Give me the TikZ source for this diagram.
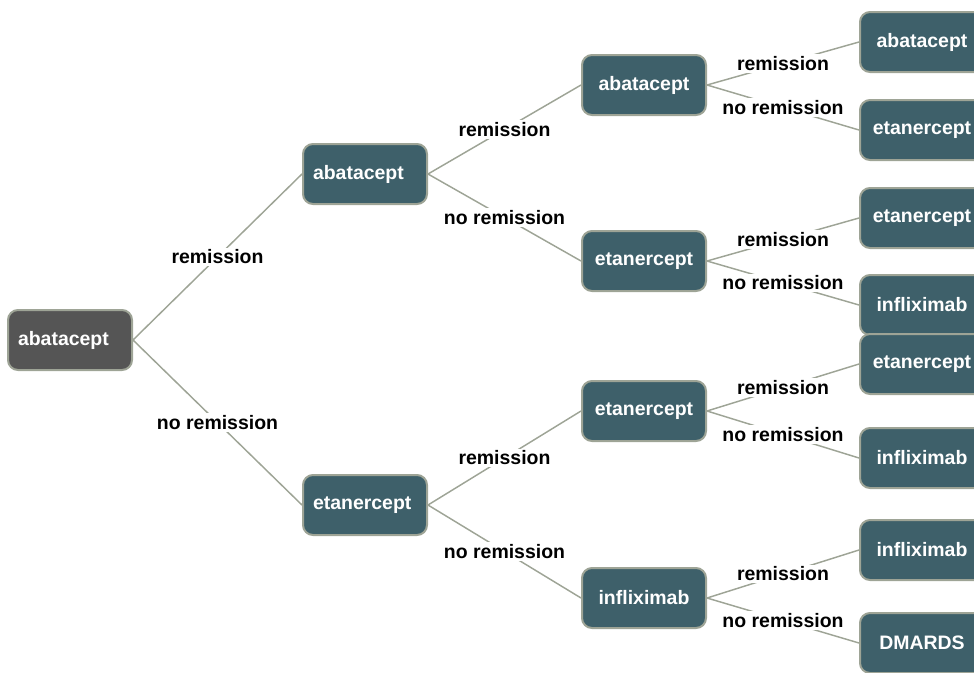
\documentclass[tikz,border=0pt]{standalone}
\usepackage{fontspec}
\setmainfont{Liberation Sans}
\usetikzlibrary{positioning}
\definecolor{boxteal}{RGB}{62,96,106}
\definecolor{boxgray}{RGB}{85,85,85}
\definecolor{edgegray}{RGB}{158,164,150}

\begin{document}
\begin{tikzpicture}[x=0.75pt,y=-0.75pt,
    every node/.style={font=\fontsize{14.6}{17}\selectfont\bfseries},
    drug/.style={draw=edgegray, line width=1.5pt, rounded corners=7.5pt,
      fill=boxteal, text=white, minimum width=93pt, minimum height=45pt,
      inner sep=0pt},
    leftdrug/.style={drug, text width=78pt, align=left, inner xsep=7.5pt},
    startdrug/.style={leftdrug, fill=boxgray},
    branch/.style={draw=edgegray, line width=1.1pt},
    answer/.style={fill=white, text=black, inner sep=1.5pt}]
  % Definitions
  \pgfmathsetmacro{\xa}{365}
  \pgfmathsetmacro{\xb}{644}
  \pgfmathsetmacro{\xc}{922}

  \clip (0,0) rectangle (974,672);

  % first choice
  \node[startdrug] (start) at (70,340) {abatacept};

  % second line
  \node[leftdrug] (abaA) at (\xa,174) {abatacept};
  \node[leftdrug] (etaA) at (\xa,505) {etanercept};

  % third line
  \node[drug] (abaB) at (\xb,85) {abatacept};
  \node[drug] (etaB) at (\xb,261) {etanercept};
  \node[drug] (etaC) at (\xb,411) {etanercept};
  \node[drug] (infB) at (\xb,598) {infliximab};

  % fourth line
  \node[drug] (abaD) at (\xc,42) {abatacept};
  \node[drug] (etaD) at (\xc,130) {etanercept};
  \node[drug] (etaE) at (\xc,218) {etanercept};
  \node[drug] (infD) at (\xc,305) {infliximab};
  \node[drug] (etaF) at (\xc,364) {etanercept};
  \node[drug] (infE) at (\xc,458) {infliximab};
  \node[drug] (infF) at (\xc,550) {infliximab};
  \node[drug] (dmard) at (\xc,643) {DMARDS};

  % branches with outcomes
  \draw[branch] (start.east) -- node[answer] {remission} (abaA.west);
  \draw[branch] (start.east) -- node[answer] {no remission} (etaA.west);

  \draw[branch] (abaA.east) -- node[answer] {remission} (abaB.west);
  \draw[branch] (abaA.east) -- node[answer] {no remission} (etaB.west);
  \draw[branch] (etaA.east) -- node[answer] {remission} (etaC.west);
  \draw[branch] (etaA.east) -- node[answer] {no remission} (infB.west);

  \draw[branch] (abaB.east) -- node[answer] {remission} (abaD.west);
  \draw[branch] (abaB.east) -- node[answer] {no remission} (etaD.west);
  \draw[branch] (etaB.east) -- node[answer] {remission} (etaE.west);
  \draw[branch] (etaB.east) -- node[answer] {no remission} (infD.west);
  \draw[branch] (etaC.east) -- node[answer] {remission} (etaF.west);
  \draw[branch] (etaC.east) -- node[answer] {no remission} (infE.west);
  \draw[branch] (infB.east) -- node[answer] {remission} (infF.west);
  \draw[branch] (infB.east) -- node[answer] {no remission} (dmard.west);
\end{tikzpicture}
\end{document}
